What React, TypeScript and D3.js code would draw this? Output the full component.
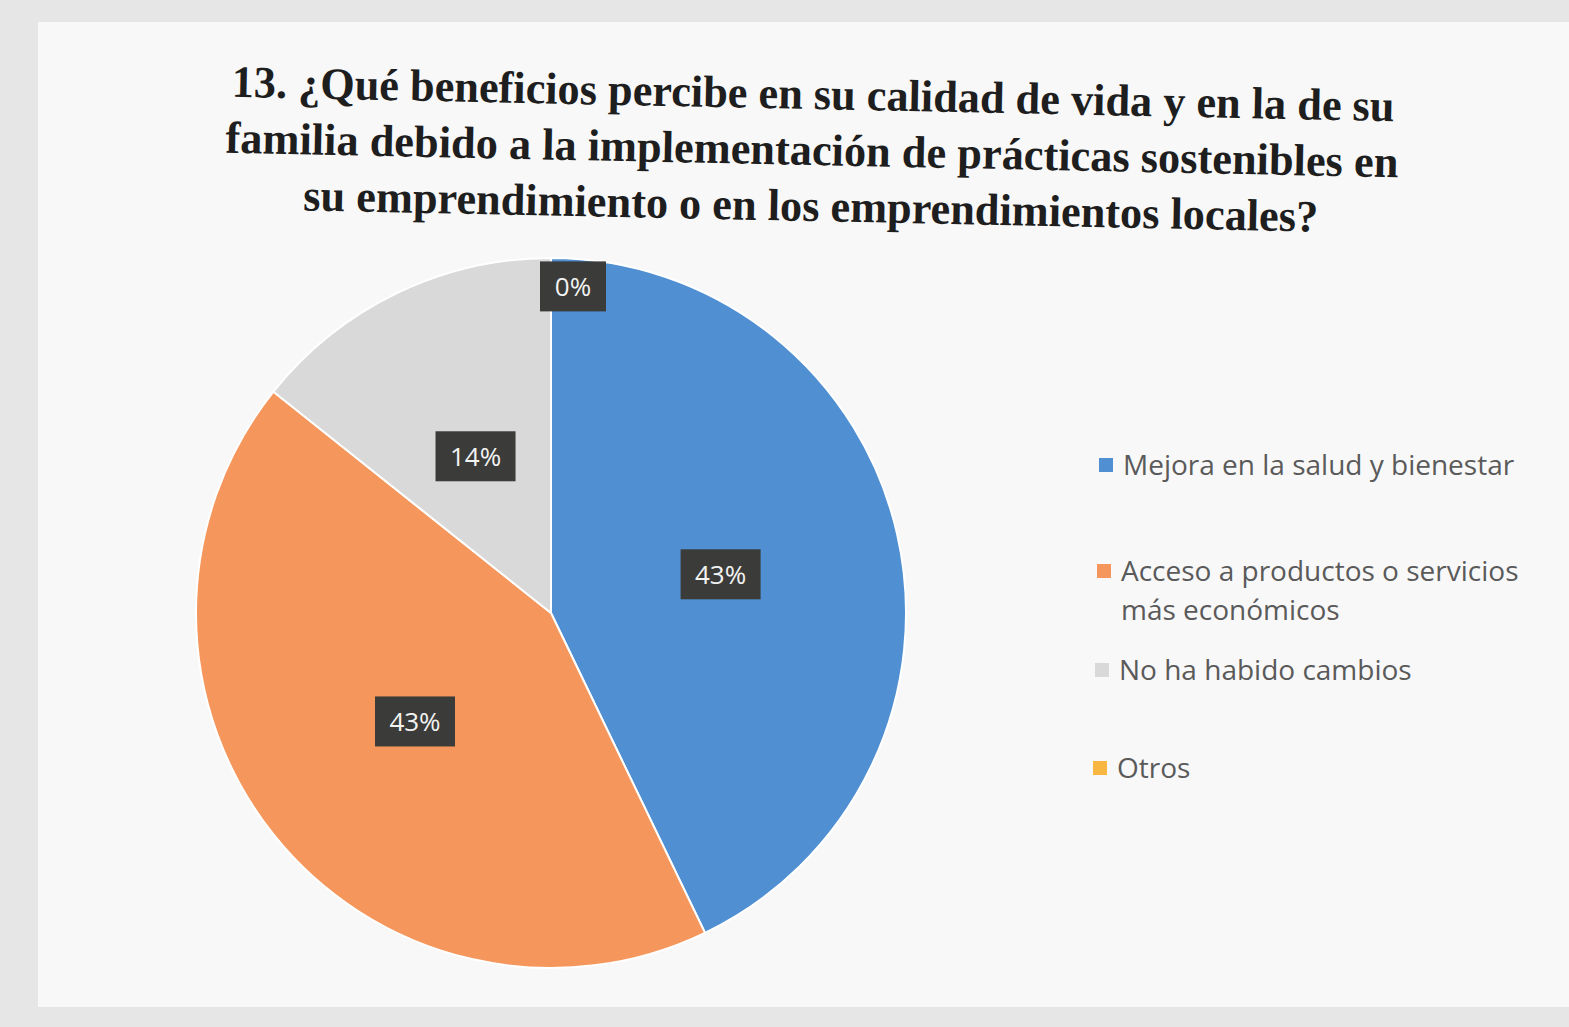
import React, { useEffect, useRef } from 'react';
import * as d3 from 'd3';

const categories = [
  'Mejora en la salud y bienestar',
  'Acceso a productos o servicios más económicos',
  'No ha habido cambios',
  'Otros',
];
const values = [3, 3, 1, 0];
const pctLabels = ['43%', '43%', '14%', '0%'];
const legendLines = [
  ['Mejora en la salud y bienestar'],
  ['Acceso a productos o servicios', 'más económicos'],
  ['No ha habido cambios'],
  ['Otros'],
];
const colors = ['#4f8fd2', '#f5975c', '#d9d9d9', '#f7b740'];
const titleLines = [
  '13. ¿Qué beneficios percibe en su calidad de vida y en la de su',
  'familia debido a la implementación de prácticas sostenibles en',
  'su emprendimiento o en los emprendimientos locales?',
];

const W = 1569;
const H = 1027;

const App = () => {
  const svgRef = useRef<SVGSVGElement>(null);

  useEffect(() => {
    const svg = d3.select(svgRef.current).attr('width', W).attr('height', H);
    svg.selectAll('*').remove();

    // paper background
    svg.append('rect').attr('width', W).attr('height', H).attr('fill', '#e6e6e6');
    svg.append('rect')
      .attr('x', 38).attr('y', 22)
      .attr('width', W - 38).attr('height', 985)
      .attr('fill', '#f8f8f8');

    // title
    const title = svg.append('g').attr('transform', 'rotate(1.2, 810, 150)');
    const titleWidths = [1163, 1173, 1015];
    titleLines.forEach((line, i) => {
      title.append('text')
        .attr('x', 812)
        .attr('y', 109 + i * 56)
        .attr('text-anchor', 'middle')
        .attr('font-family', '"Liberation Serif", "DejaVu Serif", serif')
        .attr('font-weight', 'bold')
        .attr('font-size', 45)
        .attr('fill', '#1e1e1e')
        .attr('textLength', titleWidths[i])
        .attr('lengthAdjust', 'spacingAndGlyphs')
        .text(line);
    });

    // pie
    const cx = 551;
    const cy = 613;
    const radius = 355;
    const pie = d3.pie<number>().sort(null).value(d => d);
    const arcs = pie(values);
    const arc = d3.arc<d3.PieArcDatum<number>>().innerRadius(0).outerRadius(radius);
    const g = svg.append('g').attr('transform', `translate(${cx}, ${cy})`);

    g.selectAll('path.slice')
      .data(arcs)
      .enter()
      .append('path')
      .attr('class', 'slice')
      .attr('d', arc)
      .attr('fill', (d, i) => colors[i])
      .attr('stroke', '#ffffff')
      .attr('stroke-width', 2);

    // data labels
    const labelArc = d3.arc<d3.PieArcDatum<number>>().innerRadius(radius * 0.49).outerRadius(radius * 0.49);
    const edgeArc = d3.arc<d3.PieArcDatum<number>>().innerRadius(radius * 0.92).outerRadius(radius * 0.92);
    arcs.forEach((d, i) => {
      let [lx, ly] = d.value === 0 ? edgeArc.centroid(d) : labelArc.centroid(d);
      const bw = i === 3 ? 66 : 80;
      if (d.value === 0) lx += bw / 3;
      const lg = g.append('g').attr('transform', `translate(${lx}, ${ly})`);
      lg.append('rect')
        .attr('x', -bw / 2).attr('y', -25)
        .attr('width', bw).attr('height', 50)
        .attr('fill', '#3b3b39');
      lg.append('text')
        .attr('text-anchor', 'middle')
        .attr('dy', '0.36em')
        .attr('font-family', '"Open Sans", "Liberation Sans", sans-serif')
        .attr('font-size', 26)
        .attr('fill', '#f2f2f2')
        .text(pctLabels[i]);
    });

    // legend
    const legend = svg.append('g');
    const legendY = [465, 571, 670, 768];
    categories.forEach((c, i) => {
      const row = legend.append('g').attr('transform', `translate(${1106 - i * 2}, ${legendY[i]})`);
      row.append('rect')
        .attr('x', -7).attr('y', -7)
        .attr('width', 14).attr('height', 14)
        .attr('fill', colors[i]);
      legendLines[i].forEach((t, j) => {
        row.append('text')
          .attr('x', 17)
          .attr('y', j * 39)
          .attr('dy', '0.35em')
          .attr('font-family', '"Open Sans", "Liberation Sans", sans-serif')
          .attr('font-size', 28)
          .attr('fill', '#5a5a5a')
          .text(t);
      });
    });
  }, []);

  return (
    <div style={{ position: 'absolute', left: 0, top: 0 }}>
      <svg ref={svgRef}></svg>
    </div>
  );
};

export default App;
